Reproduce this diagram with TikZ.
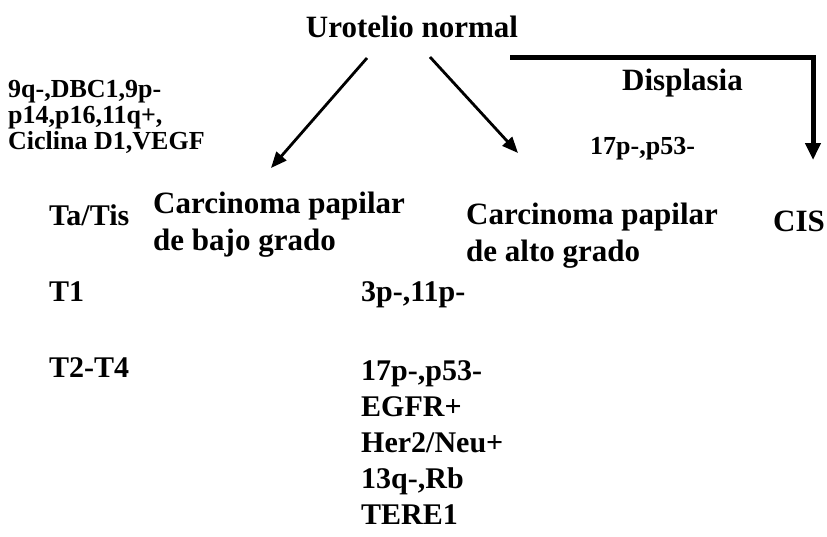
\documentclass[tikz,border=0pt]{standalone}
\usepackage{fontspec}
\setmainfont{Liberation Serif}
\usetikzlibrary{arrows.meta,graphs}

\begin{document}
\begin{tikzpicture}[x=1pt,y=-1pt,
    every node/.style={inner sep=0pt,font=\bfseries},
    big/.style={font=\fontsize{31}{37}\selectfont\bfseries,align=left},
    small/.style={font=\fontsize{26}{26}\selectfont\bfseries,align=left},
    stage/.style={font=\fontsize{30}{36}\selectfont\bfseries,align=left},
    thin arrow/.style={line width=2.8pt,-{Triangle[length=16pt,width=13pt]}},
    thick arrow/.style={line width=5pt,-{Triangle[length=17pt,width=15pt]}}]
  \useasboundingbox (0,0) rectangle (827,536);
    \node[big,anchor=base] (uro) at (412,37) {Urotelio normal};
    \node[big,anchor=north west] (bajo) at (153,192) {Carcinoma papilar\\de bajo grado};
    \node[big,anchor=north west] (alto) at (466,203) {Carcinoma papilar\\de alto grado};
    \node[big,anchor=base east] (cis) at (825,231) {CIS};
    \node[big,anchor=base east] (disp) at (743,90) {Displasia};
    \node[small,anchor=base west] (p53top) at (590,154) {17p-,p53-};
    \node[small,anchor=north west] (genbajo) at (8,80) {9q-,DBC1,9p-\\p14,p16,11q+,\\Ciclina D1,VEGF};
    \node[stage,anchor=base west] (tatis) at (49,225) {Ta/Tis};
    \node[stage,anchor=base west] (t1) at (49,301) {T1};
    \node[stage,anchor=base west] (t1gen) at (361,301) {3p-,11p-};
    \node[stage,anchor=base west] (t2) at (49,377) {T2-T4};
    \node[stage,anchor=north west] (t2gen) at (361,360) {17p-,p53-\\EGFR+\\Her2/Neu+\\13q-,Rb\\TERE1};
    \coordinate (uroL) at (367,58);
    \coordinate (uroR) at (430,57);
    \coordinate (bajoTip) at (271,168);
    \coordinate (altoTip) at (518,153);
    \coordinate (dispStart) at (510,57);
    \coordinate (cisTip) at (813,160);
  \graph[use existing nodes, edges={thin arrow}] {
    uroL -> bajoTip;
    uroR -> altoTip;
  };
  \draw[thick arrow] (dispStart) -| (cisTip);
\end{tikzpicture}
\end{document}
